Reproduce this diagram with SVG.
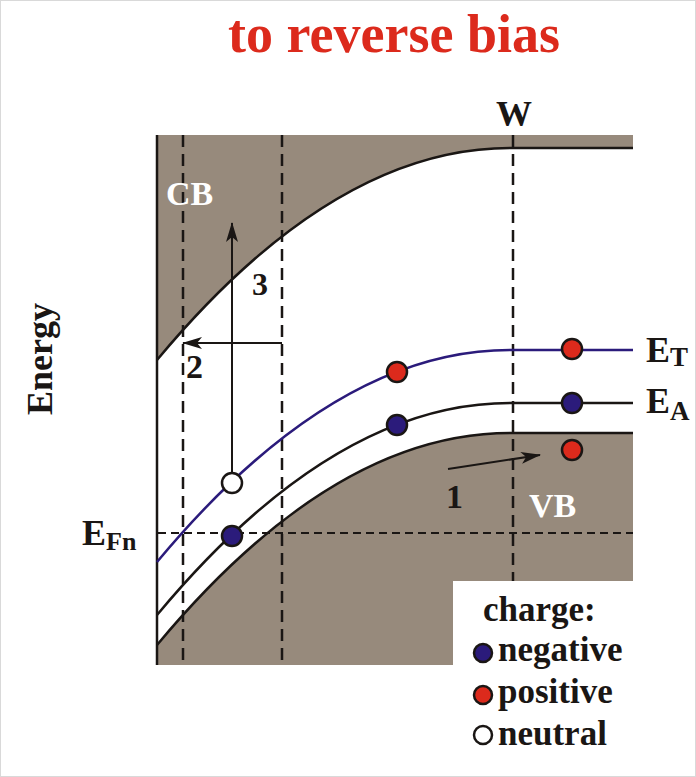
<svg xmlns="http://www.w3.org/2000/svg" width="696" height="777" viewBox="0 0 696 777">
<defs>
<style>
.t{font-family:"Liberation Serif","Times New Roman",serif;font-weight:bold;fill:#1a1614}
.w{fill:#fff}
.band{fill:#978a7c}
.curve{fill:none;stroke:#1a1614;stroke-width:2.5}
.blue{fill:none;stroke:#2b1b7b;stroke-width:2.5}
.dash{fill:none;stroke:#1a1614;stroke-width:2.5;stroke-dasharray:12 7}
.hdash{fill:none;stroke:#1a1614;stroke-width:2;stroke-dasharray:8 5}
.arr{fill:none;stroke:#1a1614;stroke-width:2;marker-end:url(#ah)}
.neg{fill:#2b1b7b;stroke:#1a1614;stroke-width:2.5}
.pos{fill:#dc2a1c;stroke:#1a1614;stroke-width:2.5}
.neu{fill:#fff;stroke:#1a1614;stroke-width:2.5}
</style>
<marker id="ah" viewBox="0 0 20 12" refX="19" refY="6" markerWidth="20" markerHeight="12" markerUnits="userSpaceOnUse" orient="auto">
<path d="M0,0 L20,6 L0,12 L5,6 Z" fill="#1a1614"/>
</marker>
</defs>
<rect x="0.5" y="0.5" width="695" height="776" fill="#fff" stroke="#d9d9d9"/>
<text class="t" x="394" y="52" font-size="54" style="fill:#dc2a1c" text-anchor="middle">to reverse bias</text>
<g id="bands">
<path class="band" d="M157,135 L633,135 L633,148 L510,148 Q333.5,148 157,360 Z"/>
<path class="band" d="M157,645 Q333.5,433 510,433 L633,433 L633,581 L453,581 L453,665 L157,665 Z"/>
</g>
<g id="guides">
<path class="dash" d="M183,135 V665 M282,135 V665 M513,135 V581"/>
<path class="hdash" d="M158,533 H633"/>
<path d="M157,135 V665" stroke="#1a1614" stroke-width="2.5" fill="none"/>
</g>
<g id="levels">
<path id="cb-edge" class="curve" d="M157,360 Q333.5,148 510,148 L633,148"/>
<path id="vb-edge" class="curve" d="M157,645 Q333.5,433 510,433 L633,433"/>
<path id="ET" class="blue" d="M157,562 Q333.5,350 510,350 L633,350"/>
<path id="EA" class="curve" d="M157,615 Q333.5,403 510,403 L633,403"/>
</g>
<g id="connectors">
<path class="arr" d="M232,473 V223"/>
<path class="arr" d="M282,343 H183"/>
<path class="arr" d="M448,469 L540,455"/>
</g>
<g id="charges">
<circle class="neu" cx="232" cy="483" r="10"/>
<circle class="neg" cx="232" cy="536" r="10"/>
<circle class="pos" cx="397" cy="372" r="10"/>
<circle class="neg" cx="397" cy="425" r="10"/>
<circle class="pos" cx="572" cy="349" r="10"/>
<circle class="neg" cx="572" cy="403" r="10"/>
<circle class="pos" cx="572" cy="450" r="10"/>
</g>
<g id="labels">
<text class="t w" x="166" y="205" font-size="34">CB</text>
<text class="t w" x="529" y="517" font-size="34">VB</text>
<text class="t" x="446" y="508" font-size="34">1</text>
<text class="t" x="186" y="378" font-size="34">2</text>
<text class="t" x="252" y="295" font-size="32">3</text>
<text class="t" x="514" y="126" font-size="36" text-anchor="middle">W</text>
<text class="t" x="646" y="362" font-size="36">E<tspan font-size="27" dy="4">T</tspan></text>
<text class="t" x="646" y="413" font-size="36">E<tspan font-size="27" dy="7">A</tspan></text>
<text class="t" x="82" y="545" font-size="36">E<tspan font-size="26" dy="5">Fn</tspan></text>
<text class="t" transform="translate(52,359) rotate(-90)" font-size="36" text-anchor="middle">Energy</text>
</g>
<g id="legend">
<text class="t" x="483" y="621" font-size="35">charge:</text>
<circle class="neg" cx="483" cy="653" r="9"/>
<text class="t" x="498" y="661" font-size="35">negative</text>
<circle class="pos" cx="483" cy="695" r="9"/>
<text class="t" x="498" y="703" font-size="35">positive</text>
<circle class="neu" cx="483" cy="735" r="9"/>
<text class="t" x="498" y="745" font-size="35">neutral</text>
</g>
</svg>
